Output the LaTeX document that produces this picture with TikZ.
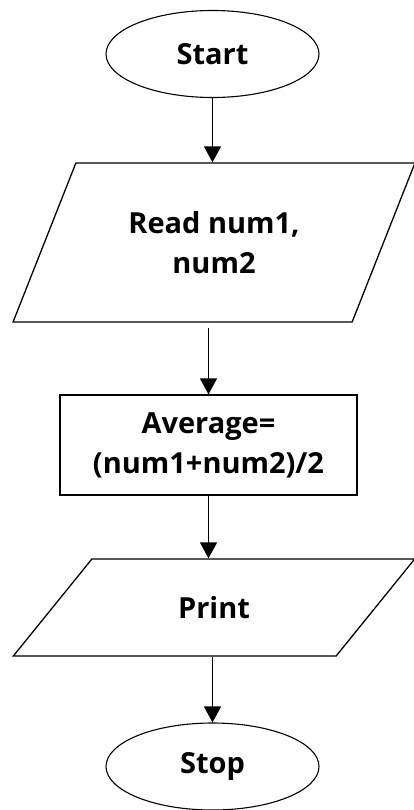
\documentclass[tikz,border=0pt]{standalone}
\usepackage{fontspec}
\setmainfont{Open Sans}
\usetikzlibrary{shapes.geometric,arrows.meta}

\tikzset{
	terminal/.style={draw, ellipse, line width=1.1pt, minimum width=213pt, minimum height=87pt, inner sep=0pt},
	inout/.style={draw, trapezium, trapezium stretches=true, line width=1.3pt, inner sep=0pt, align=center},
	process/.style={draw, rectangle, line width=1.3pt, minimum width=297pt, minimum height=100pt, inner sep=0pt, align=center},
	flow/.style={-{Triangle[length=16pt,width=17pt]}, line width=1.5pt}
}

\begin{document}
\begin{tikzpicture}[x=1pt, y=-1pt, every node/.append style={font=\fontsize{29}{40}\selectfont\bfseries}]

	\useasboundingbox (0,0) rectangle (414,810);

	\node[terminal] (start) at (212.5,54) {Start};
	
	\node[inout, trapezium left angle=58, trapezium right angle=122, minimum width=402pt, minimum height=159pt] (read) at (214,242.5) {Read num1,\\num2};
	
	\node[process] (avg) at (208.5,445) {Average=\\(num1+num2)/2};
	
	\node[inout, trapezium left angle=44, trapezium right angle=136, minimum width=402pt, minimum height=97pt] (print) at (214,607.5) {Print};
	
	\node[terminal] (stop) at (212.5,766.5) {Stop};
	
	\draw[flow] (start.south) -- (start.south |- read.north);
	\draw[flow, shorten <=5pt] (avg.north |- read.south) -- (avg.north);
	\draw[flow] (avg.south) -- (avg.south |- print.north);
	\draw[flow] (stop.north |- print.south) -- (stop.north);
	
\end{tikzpicture}
\end{document}
